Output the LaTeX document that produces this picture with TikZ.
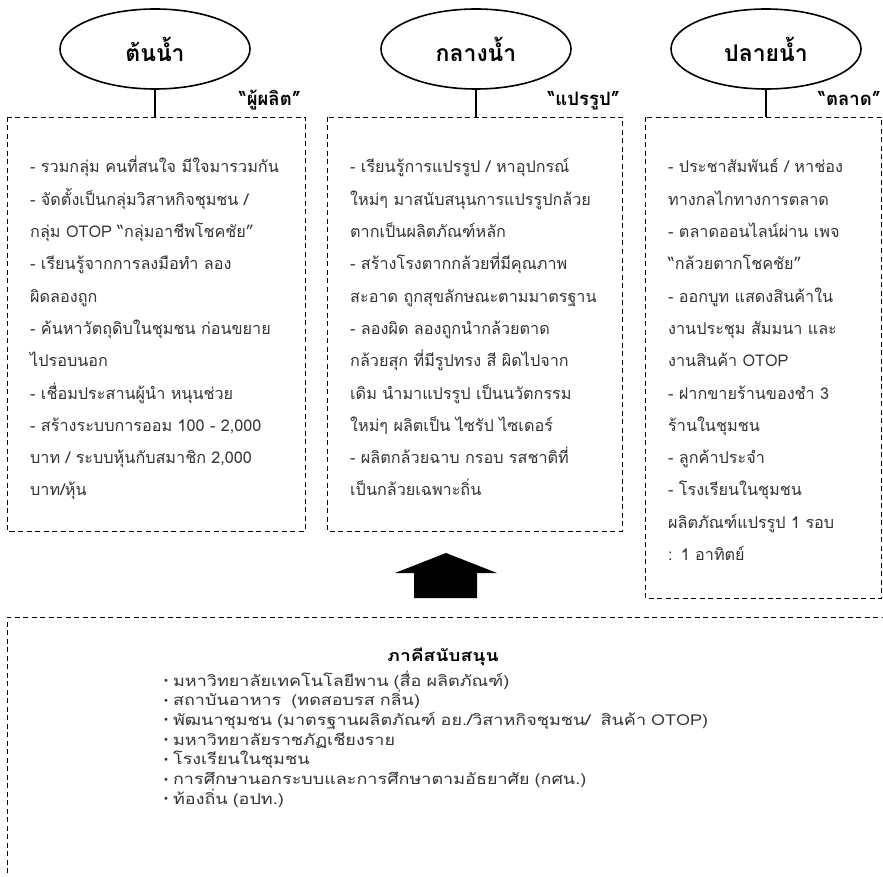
\documentclass[tikz,border=0pt]{standalone}
\usepackage{fontspec}
\setmainfont[Script=Thai]{Loma}
\newfontfamily\listfont[Script=Thai, FakeStretch=1.2]{Loma}
\newfontfamily\dejavu{DejaVu Sans}
\usetikzlibrary{shapes.geometric}
\newcommand\J[1]{\makebox[\linewidth][s]{#1}}
\newcommand\bul{\raisebox{1.5pt}{\dejavu\fontsize{10}{10}\selectfont •}\hspace{4pt}}
\tikzset{
  stage/.style={draw, line width=1.6pt, ellipse, minimum width=190pt, minimum height=80pt, inner sep=0pt, font=\fontsize{23}{26}\selectfont\bfseries},
  dbox/.style={draw, dash pattern=on 5pt off 3.5pt, line width=0.9pt},
  tag/.style={font=\fontsize{18.5}{20}\selectfont\bfseries, anchor=base east, inner sep=0pt},
  body/.style={font=\fontsize{16.2}{32.3}\selectfont, align=left, anchor=base west, inner sep=0pt, text=black!80},
  link/.style={line width=1.8pt},
  item/.style={font=\listfont\fontsize{15}{19.7}\selectfont, align=left, anchor=base west, inner sep=0pt, text=black!80, text width=650pt}
}
\begin{document}
\begin{tikzpicture}[x=1pt,y=-1pt]
\useasboundingbox (0,0) rectangle (883,877);
% stage ellipses
\node[stage] (e1) at (155,49) {ต้นน้ำ};
\node[stage] (e2) at (476,49) {กลางน้ำ};
\node[stage] (e3) at (766,49) {ปลายน้ำ};
% boxes
\coordinate (b1nw) at (7,117); \coordinate (b1se) at (305,531);
\coordinate (b2nw) at (327,117); \coordinate (b2se) at (622,531);
\coordinate (b3nw) at (645,117); \coordinate (b3se) at (881.5,598);
\draw[dbox] (b1nw) rectangle (b1se);
\draw[dbox] (b2nw) rectangle (b2se);
\draw[dbox] (b3nw) rectangle (b3se);
\coordinate (t1) at (155,117);
\coordinate (t2) at (476,117);
\coordinate (t3) at (766,117);
\draw[link] (e1.south) -- (t1);
\draw[link] (e2.south) -- (t2);
\draw[link] (e3.south) -- (t3);
% tags
\node[tag] (g1) at (301,106) {“ผู้ผลิต”};
\node[tag] (g2) at (620,106) {“แปรรูป”};
\node[tag] (g3) at (881,106) {“ตลาด”};
% box texts
\node[body, text width=252pt] (x1) at (30,173) {%
- รวมกลุ่ม คนที่สนใจ มีใจมารวมกัน\\
\J{- จัดตั้งเป็นกลุ่มวิสาหกิจชุมชน /}\\
กลุ่ม OTOP “กลุ่มอาชีพโชคชัย”\\
\J{- เรียนรู้จากการลงมือทำ ลอง}\\
ผิดลองถูก\\
\J{- ค้นหาวัตถุดิบในชุมชน ก่อนขยาย}\\
ไปรอบนอก\\
- เชื่อมประสานผู้นำ หนุนช่วย\\
\J{- สร้างระบบการออม 100 - 2,000}\\
\J{บาท / ระบบหุ้นกับสมาชิก 2,000}\\
บาท/หุ้น};
\node[body, text width=256pt] (x2) at (350,173) {%
\J{- เรียนรู้การแปรรูป / หาอุปกรณ์}\\
\J{ใหม่ๆ มาสนับสนุนการแปรรูปกล้วย}\\
ตากเป็นผลิตภัณฑ์หลัก\\
\J{- สร้างโรงตากกล้วยที่มีคุณภาพ}\\
\J{สะอาด ถูกสุขลักษณะตามมาตรฐาน}\\
\J{- ลองผิด ลองถูกนำกล้วยตาด}\\
\J{กล้วยสุก ที่มีรูปทรง สี ผิดไปจาก}\\
\J{เดิม นำมาแปรรูป เป็นนวัตกรรม}\\
ใหม่ๆ ผลิตเป็น ไซรัป ไซเดอร์\\
\J{- ผลิตกล้วยฉาบ กรอบ รสชาติที่}\\
เป็นกล้วยเฉพาะถิ่น};
\node[body, text width=194pt] (x3) at (668,173) {%
\J{- ประชาสัมพันธ์ / หาช่อง}\\
ทางกลไกทางการตลาด\\
\J{- ตลาดออนไลน์ผ่าน เพจ}\\
“กล้วยตากโชคชัย”\\
\J{- ออกบูท แสดงสินค้าใน}\\
\J{งานประชุม สัมมนา และ}\\
งานสินค้า OTOP\\
\J{- ฝากขายร้านของชำ 3}\\
ร้านในชุมชน\\
- ลูกค้าประจำ\\
- โรงเรียนในชุมชน\\
\J{ผลิตภัณฑ์แปรรูป 1 รอบ}\\
: 1 อาทิตย์};
% support box
\coordinate (s1) at (7,890);
\coordinate (s2) at (7,617);
\coordinate (s3) at (895,617);
\draw[dbox] (s1) -- (s2) -- (s3);
% block arrow
\fill (446,553) -- (497,573) -- (477,573) -- (477,598) -- (414,598) -- (414,573) -- (395,573) -- cycle;
\node[font=\listfont\fontsize{16}{18}\selectfont\bfseries, inner sep=0pt] (st) at (443,657) {ภาคีสนับสนุน};
\node[item] (it) at (163,686) {%
\bul มหาวิทยาลัยเทคโนโลยีพาน (สื่อ ผลิตภัณฑ์)\\
\bul สถาบันอาหาร\ \ (ทดสอบรส กลิ่น)\\
\bul พัฒนาชุมชน (มาตรฐานผลิตภัณฑ์ อย./วิสาหกิจชุมชน/\ \ สินค้า OTOP)\\
\bul มหาวิทยาลัยราชภัฏเชียงราย\\
\bul โรงเรียนในชุมชน\\
\bul การศึกษานอกระบบและการศึกษาตามอัธยาศัย (กศน.)\\
\bul ท้องถิ่น (อปท.)};
\end{tikzpicture}
\end{document}
